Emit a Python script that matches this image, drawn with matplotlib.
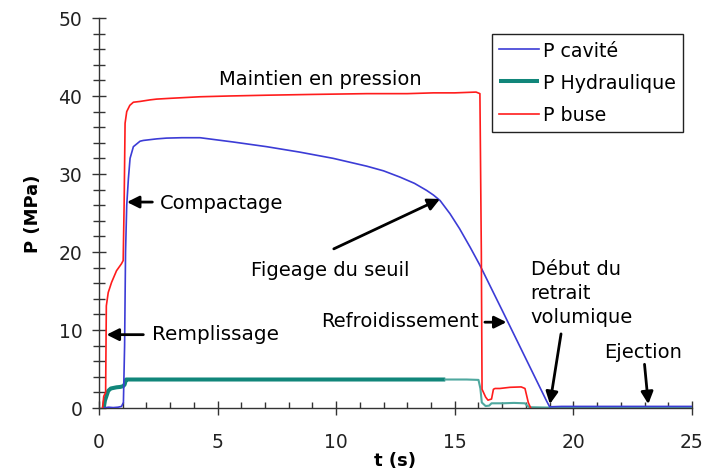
import matplotlib
matplotlib.use("Agg")
import matplotlib.pyplot as plt
from matplotlib.ticker import MultipleLocator

plt.rcParams['font.family'] = ['DejaVu Sans']

# ---- data ----
t_buse = [0.15, 0.2, 0.28, 0.31, 0.39, 0.53, 0.74, 0.95, 1.02, 1.06, 1.1, 1.17, 1.3, 1.45,
          1.73, 2.15, 2.43, 3.0, 4.26, 5.5, 7.07, 9.0, 11.3, 13.0, 14.1, 15.0, 15.9, 16.06,
          16.12, 16.15, 16.3, 16.4, 16.55, 16.63, 16.7, 16.9, 17.33, 17.8, 17.96, 18.03,
          18.1, 18.2]
p_buse = [0.0, 1.5, 2.0, 13.1, 14.8, 16.1, 17.6, 18.5, 18.9, 26.0, 36.5, 38.0, 38.8, 39.2,
          39.3, 39.5, 39.6, 39.7, 39.9, 40.0, 40.1, 40.2, 40.3, 40.3, 40.4, 40.4, 40.5, 40.3,
          20.0, 2.4, 1.4, 1.0, 1.15, 2.4, 2.5, 2.5, 2.65, 2.7, 2.5, 1.6, 0.7, 0.0]

t_cav = [0.2, 0.4, 0.6, 0.8, 0.95, 1.03, 1.08, 1.12, 1.17, 1.24, 1.31, 1.45, 1.73, 1.87,
         2.43, 2.85, 3.5, 4.26, 5.66, 7.07, 8.47, 9.88, 11.29, 12.0, 12.69, 13.3, 13.81, 14.1,
         14.38, 14.8, 15.2, 15.65, 16.06, 17.05, 18.0, 18.87, 19.0, 19.5, 25.0]
p_cav = [0.0, 0.1, 0.05, 0.1, 0.2, 0.7, 8.0, 20.0, 26.0, 29.4, 32.0, 33.5, 34.2, 34.3,
         34.5, 34.6, 34.65, 34.65, 34.1, 33.5, 32.8, 32.0, 31.0, 30.4, 29.6, 28.8, 27.9, 27.3,
         26.6, 24.9, 23.0, 20.6, 18.3, 12.2, 6.3, 0.9, 0.15, 0.2, 0.2]

t_hyd = [0.2, 0.25, 0.39, 0.5, 0.74, 0.9, 1.02, 1.08, 1.14, 1.2, 3.0, 6.0, 9.0, 12.0, 14.6,
         15.5, 16.0, 16.08, 16.14, 16.3, 16.45, 16.55, 17.0, 17.5, 17.96, 18.05, 18.15, 19.0, 25.0]
p_hyd = [0.0, 0.94, 2.2, 2.5, 2.65, 2.7, 2.8, 3.0, 3.65, 3.65, 3.65, 3.65, 3.65, 3.65, 3.65,
         3.65, 3.6, 2.5, 0.7, 0.25, 0.3, 0.6, 0.6, 0.65, 0.6, 0.3, 0.1, 0.05, 0.05]
hyd_split = 14  # index where the recorded thick trace ends (t = 14.6 s)

x_ticks = [0, 5, 10, 15, 20, 25]
y_ticks = [0, 10, 20, 30, 40, 50]

c_blue = "#3c3cd6"
c_teal = "#11867a"
c_teal_light = "#4fa89f"
c_red = "#ff1c1c"

fig = plt.figure(figsize=(7.05, 4.77), dpi=100)
ax = fig.add_axes([0.1404, 0.1426, 0.8411, 0.8176])

ax.plot(t_cav, p_cav, color=c_blue, lw=1.2, zorder=3, label="P cavité")
ax.plot(t_hyd[:hyd_split + 1], p_hyd[:hyd_split + 1], color=c_teal, lw=2.9, zorder=2,
        label="P Hydraulique", solid_capstyle='butt')
ax.plot(t_hyd[hyd_split:], p_hyd[hyd_split:], color=c_teal_light, lw=1.5, zorder=2)
ax.plot(t_buse, p_buse, color=c_red, lw=1.2, zorder=4, label="P buse")

ax.set_xlim(0, 25)
ax.set_ylim(0, 50)
ax.set_xticks(x_ticks)
ax.set_yticks(y_ticks)
ax.xaxis.set_minor_locator(MultipleLocator(1))
ax.yaxis.set_minor_locator(MultipleLocator(2))

for s in ['top', 'right']:
    ax.spines[s].set_visible(False)
for s in ['left', 'bottom']:
    ax.spines[s].set_color("#333333")
    ax.spines[s].set_linewidth(1.0)

ax.tick_params(axis='y', which='major', direction='inout', length=10, width=1,
               color="#333333", labelsize=13.5, labelcolor="#222222", pad=7)
ax.tick_params(axis='y', which='minor', direction='inout', length=8, width=1, color="#333333")
ax.tick_params(axis='x', which='major', direction='inout', length=10, width=1,
               color="#333333", labelsize=13.5, labelcolor="#222222", pad=12)
ax.tick_params(axis='x', which='minor', direction='in', length=4, width=1, color="#333333")

ax.set_xlabel("t (s)", fontsize=13, fontweight='bold', labelpad=0)
ax.set_ylabel("P (MPa)", fontsize=13, fontweight='bold', labelpad=12)

leg = ax.legend(loc='upper left', bbox_to_anchor=(0.662, 0.96), fontsize=13.7,
                frameon=True, fancybox=False, shadow=False, framealpha=1,
                edgecolor="#222222", handlelength=2.1, handletextpad=0.2,
                labelspacing=0.7, borderpad=0.38, borderaxespad=0)
leg.get_frame().set_linewidth(1.0)

arrow_kw = dict(arrowstyle='-|>', color='black', lw=2, mutation_scale=18,
                shrinkA=0, shrinkB=0)
fs = 14

ax.text(9.32, 42.2, "Maintien en pression", fontsize=fs, ha='center', va='center')

ax.annotate("", xy=(1.18, 26.4), xytext=(2.25, 26.4), arrowprops=arrow_kw)
ax.text(2.57, 26.4, "Compactage", fontsize=fs, ha='left', va='center')

ax.annotate("", xy=(0.32, 9.4), xytext=(1.87, 9.4), arrowprops=arrow_kw)
ax.text(2.23, 9.5, "Remplissage", fontsize=fs + 0.4, ha='left', va='center')

ax.annotate("", xy=(14.38, 26.8), xytext=(9.9, 20.4), arrowprops=arrow_kw)
ax.text(9.75, 17.7, "Figeage du seuil", fontsize=fs, ha='center', va='center')

ax.annotate("", xy=(17.18, 11.0), xytext=(16.27, 11.0), arrowprops=arrow_kw)
ax.text(12.7, 11.2, "Refroidissement", fontsize=fs, ha='center', va='center')

ax.annotate("", xy=(19.01, 0.5), xytext=(19.48, 9.5), arrowprops=arrow_kw)
ax.text(18.2, 14.8, "Début du\nretrait\nvolumique", fontsize=fs, ha='left', va='center',
        linespacing=1.35)

ax.annotate("", xy=(23.16, 0.5), xytext=(23.0, 5.6), arrowprops=arrow_kw)
ax.text(21.29, 7.3, "Ejection", fontsize=fs, ha='left', va='center')

fig.savefig("out.png", dpi=100)
